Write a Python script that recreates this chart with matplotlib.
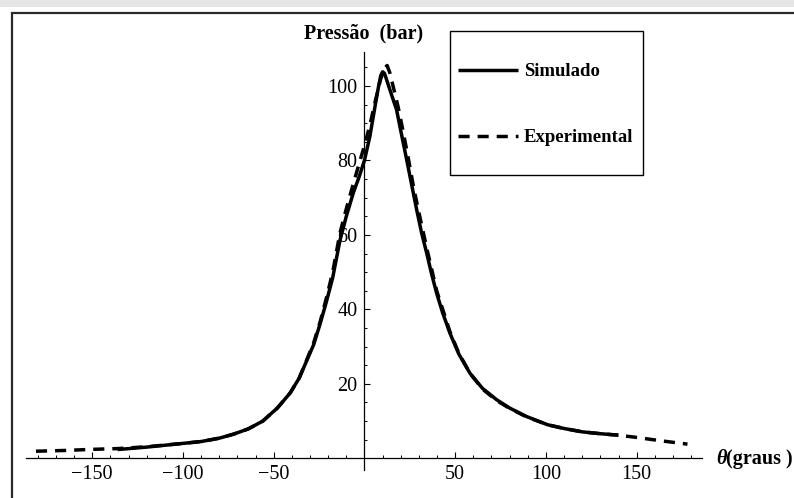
import matplotlib
matplotlib.use("Agg")
import matplotlib.pyplot as plt
from matplotlib.patches import Rectangle
from matplotlib.ticker import FixedLocator

plt.rcParams['font.family'] = ['Liberation Serif', 'DejaVu Serif']

# values
theta_sim = [-136, -120, -100, -90, -80, -72, -64, -56, -48, -41, -36, -32, -28,
             -24.5, -21, -17.5, -13.5, -10, -6, -3, 0, 3, 6, 8, 9, 10, 11, 12, 14,
             17.7, 20, 23.3, 26, 28.8, 31.5, 34.3, 37, 39.8, 43, 47.1, 52, 58.2, 65,
             72.9, 80, 89.4, 101, 110, 120, 130, 140]
p_sim = [2.35, 3.0, 4.0, 4.5, 5.4, 6.5, 7.9, 10.0, 13.5, 17.5, 21.5, 26.0, 30.5,
         36.0, 42.0, 48.5, 58.5, 65.0, 71.5, 75.5, 80.0, 86.5, 95.0, 100.5, 102.8,
         103.8, 103.4, 102.0, 99.0, 93.6, 88.0, 80.1, 73.5, 66.7, 60.5, 55.1, 49.5,
         44.3, 39.2, 33.6, 28.0, 22.8, 18.8, 15.7, 13.5, 11.2, 9.0, 8.0, 7.1, 6.6, 6.2]

theta_exp = [-181, -165, -150, -136, -120, -100, -90, -80, -72, -64, -56, -48, -41,
             -36, -32, -28, -24.5, -21, -17.5, -13.5, -10, -6, -3, 0, 3, 6, 9, 11.5,
             12.5, 14, 16, 18.5, 21, 24, 27, 30, 34.3, 39.8, 47.1, 52, 58.2, 65, 72.9,
             80, 89.4, 101, 110, 120, 130, 140, 150, 165, 178]
p_exp = [1.9, 2.1, 2.4, 2.6, 3.1, 4.0, 4.5, 5.4, 6.5, 7.9, 10.0, 13.5, 17.5,
         21.5, 26.2, 31.0, 36.5, 43.0, 50.0, 60.5, 67.0, 74.0, 79.0, 84.0, 89.5,
         96.0, 102.0, 105.0, 105.5, 103.5, 99.5, 94.5, 88.5, 81.0, 73.0, 66.0, 56.5,
         45.0, 34.0, 28.2, 22.8, 18.6, 15.5, 13.4, 11.1, 9.0, 8.0, 7.1, 6.6, 6.2,
         5.6, 4.6, 3.8]

x_major = [-150, -100, -50, 50, 100, 150]
x_minor = [v for v in range(-180, 181, 10) if v % 50 != 0]
y_major = [20, 40, 60, 80, 100]
y_minor = [v for v in range(5, 106, 5) if v % 20 != 0]

W, H = 794, 498
fig = plt.figure(figsize=(W / 100, H / 100), dpi=100)

# faded band at the very top and the page frame
fig.patches.append(Rectangle((0, 1 - 7 / H), 1, 7 / H, transform=fig.transFigure,
                             facecolor='#e6e6e6', edgecolor='none'))
fig.patches.append(Rectangle((11.5 / W, -0.1), 1.2, 1.1 - 13.5 / H, transform=fig.transFigure,
                             facecolor='none', edgecolor='#2a2a2a', linewidth=1.6))

ax = fig.add_axes([26 / W, 1 - 470.2 / H, (702 - 26) / W, (470.2 - 51.7) / H])
ax.set_facecolor('none')

ax.plot(theta_sim, p_sim, color='black', linewidth=2.5, label='Simulado',
        solid_capstyle='butt', solid_joinstyle='round')
ax.plot(theta_exp, p_exp, color='black', linewidth=2.5, label='Experimental',
        dashes=(3.2, 2.3), dash_capstyle='butt', dash_joinstyle='round')

ax.set_xlim(-186.5, 186)
ax.set_ylim(-3.2, 109.2)

for side in ['top', 'right']:
    ax.spines[side].set_visible(False)
ax.spines['left'].set_position(('data', 0))
ax.spines['bottom'].set_position(('data', 0))
for side in ['left', 'bottom']:
    ax.spines[side].set_linewidth(0.9)

ax.xaxis.set_major_locator(FixedLocator(x_major))
ax.xaxis.set_minor_locator(FixedLocator(x_minor))
ax.yaxis.set_major_locator(FixedLocator(y_major))
ax.yaxis.set_minor_locator(FixedLocator(y_minor))
ax.set_xticklabels(['\u2212' + str(-v) if v < 0 else str(v) for v in x_major])
ax.set_yticklabels([str(v) for v in y_major])
ax.tick_params(which='major', direction='in', length=4, width=0.8, labelsize=14.5)
ax.tick_params(which='minor', direction='in', length=2.2, width=0.7)
ax.tick_params(axis='x', which='major', pad=5)
ax.tick_params(axis='y', which='major', pad=5)

fig.text(364 / W, 1 - 33 / H, 'Pressão  (bar)', ha='center', va='center',
         fontsize=14.5, fontweight='bold')
fig.text(716 / W, 1 - 459 / H, 'θ', ha='left', va='center', fontsize=14.5,
         fontweight='bold', style='italic')
fig.text(726 / W, 1 - 459 / H, '(graus )', ha='left', va='center', fontsize=14.5,
         fontweight='bold')

# legend box, drawn in the axes so the legend sits on top of it
box = Rectangle((450 / W, 1 - 175 / H), 193 / W, 143.5 / H,
                transform=fig.transFigure, facecolor='white',
                edgecolor='black', linewidth=1.0, zorder=4, clip_on=False)
ax.add_patch(box)
leg = ax.legend(loc='upper left', bbox_to_anchor=(458 / W, 1 - 63 / H),
                bbox_transform=fig.transFigure, frameon=False, borderpad=0,
                borderaxespad=0, handlelength=3.2, handletextpad=0.3,
                labelspacing=2.62, prop={'weight': 'bold', 'size': 13.5})
leg.set_zorder(5)

fig.savefig('out.png', dpi=100)
